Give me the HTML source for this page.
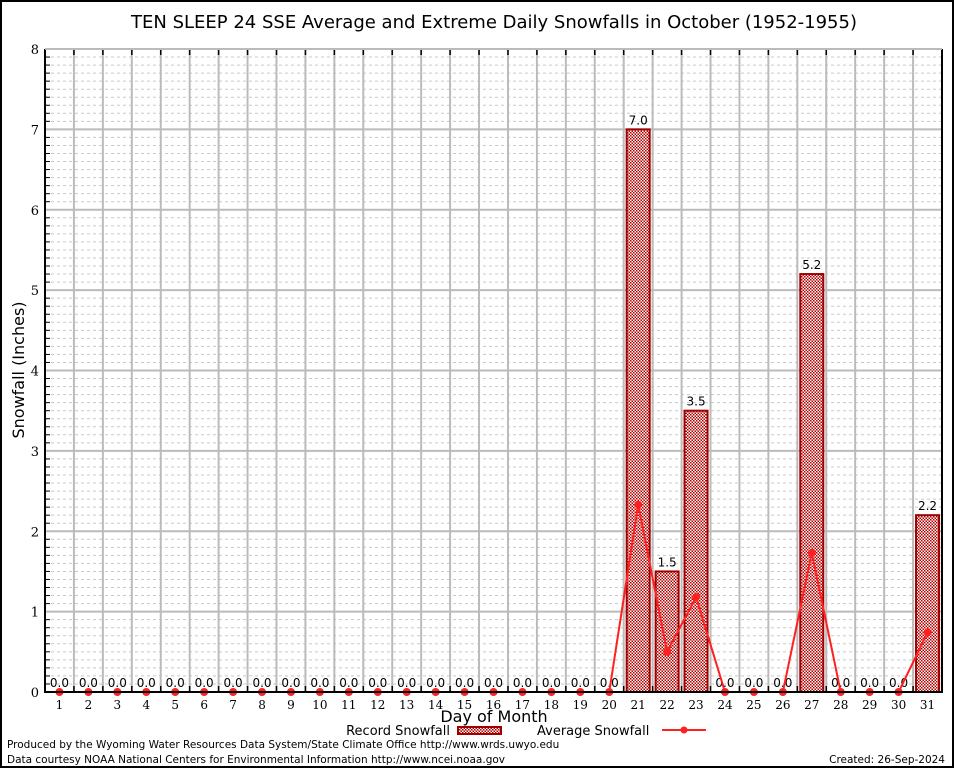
<!DOCTYPE html>
<html><head><meta charset="utf-8"><style>
body{margin:0;background:#fff;}
svg{display:block;font-family:"DejaVu Sans","Liberation Sans",sans-serif;}
</style></head><body>
<svg id="chart" width="954" height="768">
<defs>
<pattern id="chk" width="3" height="3" patternUnits="userSpaceOnUse">
<rect width="3" height="3" fill="#fff"/><rect width="1.5" height="1.5" fill="#b00000"/><rect x="1.5" y="1.5" width="1.5" height="1.5" fill="#b00000"/>
</pattern>
</defs>
<rect x="1" y="1" width="952" height="766" fill="#fff" stroke="#000" stroke-width="2"/>
<text x="494" y="28" font-size="18" text-anchor="middle">TEN SLEEP 24 SSE Average and Extreme Daily Snowfalls in October (1952-1955)</text>
<g id="grid"></g>
<g id="bars"></g>
<g id="line"></g>
<g id="axes"></g>
<text x="24" y="370" font-size="16" text-anchor="middle" transform="rotate(-90 24 370)">Snowfall (Inches)</text>
<text x="494" y="722" font-size="16" text-anchor="middle">Day of Month</text>
<g>
<text x="450" y="735" font-size="13" text-anchor="end">Record Snowfall</text>
<rect x="458" y="727" width="43" height="7" fill="url(#chk)" stroke="#a00000" stroke-width="2"/>
<text x="537" y="735" font-size="13">Average Snowfall</text>
<line x1="662" y1="730" x2="706" y2="730" stroke="#ff2020" stroke-width="2"/>
<circle cx="684" cy="730" r="3.5" fill="#ff2020"/>
</g>
<text x="7" y="748" font-size="10.5">Produced by the Wyoming Water Resources Data System/State Climate Office http://www.wrds.uwyo.edu</text>
<text x="7" y="763" font-size="10.5">Data courtesy NOAA National Centers for Environmental Information http://www.ncei.noaa.gov</text>
<text x="945" y="763" font-size="10.5" text-anchor="end">Created: 26-Sep-2024</text>
</svg>
<script>
const days=[1,2,3,4,5,6,7,8,9,10,11,12,13,14,15,16,17,18,19,20,21,22,23,24,25,26,27,28,29,30,31];
const recordValues=[0,0,0,0,0,0,0,0,0,0,0,0,0,0,0,0,0,0,0,0,7.0,1.5,3.5,0,0,0,5.2,0,0,0,2.2];
const averageValues=[0,0,0,0,0,0,0,0,0,0,0,0,0,0,0,0,0,0,0,0,2.33,0.5,1.18,0,0,0,1.73,0,0,0,0.74];
const yTicks=[0,1,2,3,4,5,6,7,8];
const NS="http://www.w3.org/2000/svg";
const L=45,R=942,T=49,B=692,YMAX=8;
const step=(R-L)/days.length;
function xs(d){return L+(d-0.5)*step;}
function ys(v){return B-(v/YMAX)*(B-T);}
function mk(tag,attrs,parent,txt){const e=document.createElementNS(NS,tag);for(const k in attrs)e.setAttribute(k,attrs[k]);if(txt!==undefined)e.textContent=txt;parent.appendChild(e);return e;}
const grid=document.getElementById('grid'),bars=document.getElementById('bars'),line=document.getElementById('line'),axes=document.getElementById('axes');
for(let i=1;i<YMAX*10;i++){if(i%10===0)continue;const y=ys(i/10);
const e=mk('line',{x1:L,x2:R,y1:y,y2:y,stroke:'#c8c8c8','stroke-width':1,'stroke-dasharray':'3,3'},grid);

const t=mk('line',{x1:L,x2:L+5,y1:y,y2:y,stroke:'#000','stroke-width':1},axes);
}
yTicks.forEach(v=>{const y=ys(v);
const g=mk('line',{x1:L,x2:R,y1:y,y2:y,stroke:'#bbb','stroke-width':2},grid);

const t=mk('text',{x:L-6,y:y+5,'font-size':13,'text-anchor':'end','font-family':'DejaVu Serif, Liberation Serif, serif'},axes,String(v));
});
for(let i=1;i<days.length;i++){const x=L+i*step;
const g=mk('line',{x1:x,x2:x,y1:T,y2:B,stroke:'#bbb','stroke-width':2},grid);

const t=mk('line',{x1:x,x2:x,y1:T,y2:T+6,stroke:'#000','stroke-width':1.5},axes);

const b=mk('line',{x1:x,x2:x,y1:B-6,y2:B,stroke:'#000','stroke-width':1.5},axes);
}
days.forEach((d,i)=>{const v=recordValues[i],x=xs(d);
if(v>0){const r=mk('rect',{x:x-11.5,y:ys(v),width:23,height:B-ys(v),fill:'url(#chk)',stroke:'#a00000','stroke-width':2},bars);
}
const lb=mk('text',{x:x,y:ys(v)-5,'font-size':12,'text-anchor':'middle'},bars,v.toFixed(1));

const tl=mk('text',{x:x,y:B+17,'font-size':12,'text-anchor':'middle','font-family':'DejaVu Serif, Liberation Serif, serif'},axes,String(d));
});
const pts=days.map((d,i)=>xs(d)+','+ys(averageValues[i])).join(' ');
const pl=mk('polyline',{points:pts,fill:'none',stroke:'#ff2020','stroke-width':2},line);

days.forEach((d,i)=>{const c=mk('circle',{cx:xs(d),cy:ys(averageValues[i]),r:4,fill:'#ff2020'},line);
});
const ax=mk('path',{d:`M${L},${T} L${L},${B} L${R},${B} L${R},${T}`,fill:'none',stroke:'#000','stroke-width':2},axes);

const tp=mk('line',{x1:L,x2:R,y1:T,y2:T,stroke:'#bbb','stroke-width':2},axes);

</script>
</body></html>
